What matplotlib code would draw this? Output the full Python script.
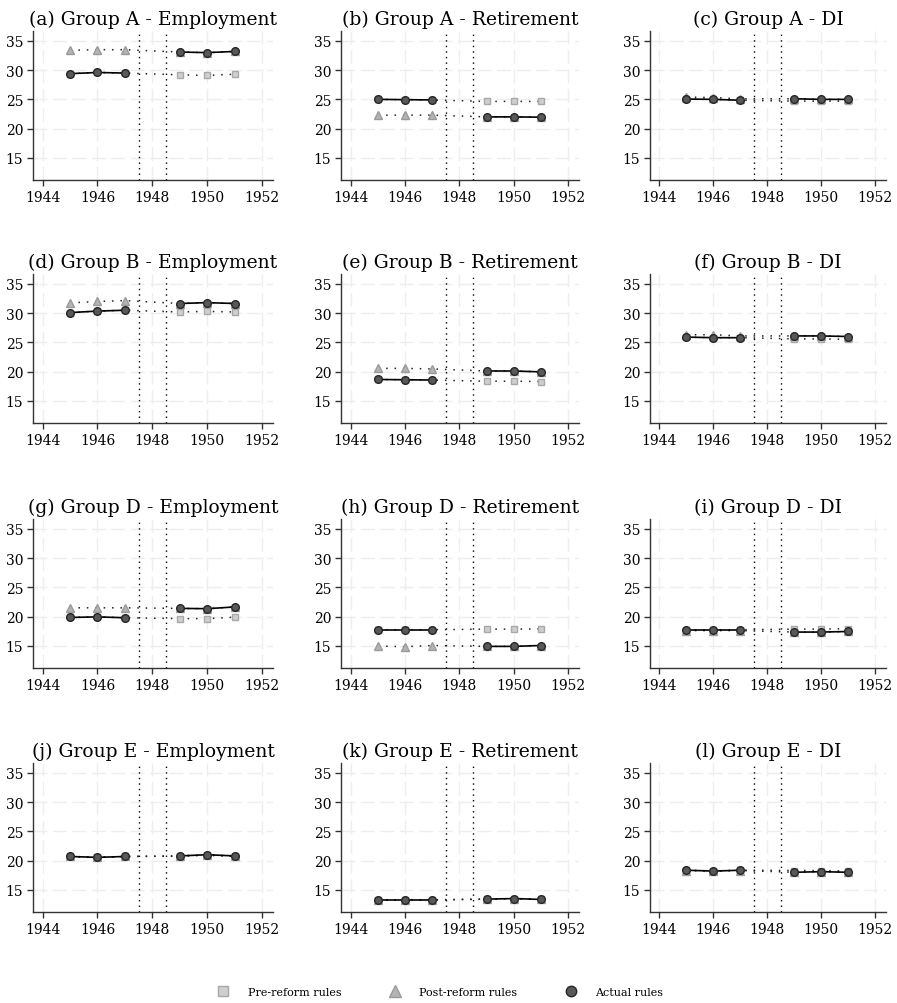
import numpy as np
import matplotlib
matplotlib.use("Agg")
import matplotlib.pyplot as plt
from matplotlib.lines import Line2D

plt.rcParams["font.family"] = ["DejaVu Serif"]

years = [1945, 1946, 1947, 1949, 1950, 1951]
reform_lines = [1947.5, 1948.5]

titles = ["(a) Group A - Employment", "(b) Group A - Retirement", "(c) Group A - DI",
          "(d) Group B - Employment", "(e) Group B - Retirement", "(f) Group B - DI",
          "(g) Group D - Employment", "(h) Group D - Retirement", "(i) Group D - DI",
          "(j) Group E - Employment", "(k) Group E - Retirement", "(l) Group E - DI"]

# one row per panel, values for 1945, 1946, 1947, 1949, 1950, 1951
actual = [
  [29.4, 29.6, 29.5, 33.1, 33.0, 33.2],
  [25.0, 24.95, 24.9, 22.0, 22.0, 21.95],
  [25.05, 25.0, 24.85, 25.1, 25.0, 25.0],
  [30.1, 30.35, 30.5, 31.65, 31.8, 31.65],
  [18.65, 18.6, 18.55, 20.1, 20.1, 19.95],
  [25.9, 25.8, 25.8, 26.1, 26.1, 26.0],
  [19.85, 19.95, 19.8, 21.4, 21.35, 21.65],
  [17.75, 17.75, 17.75, 14.9, 14.9, 15.05],
  [17.75, 17.75, 17.75, 17.35, 17.35, 17.45],
  [20.7, 20.55, 20.7, 20.8, 21.0, 20.8],
  [13.25, 13.25, 13.25, 13.4, 13.5, 13.35],
  [18.35, 18.2, 18.35, 18.0, 18.1, 18.0],
]
pre_reform = [
  [29.4, 29.6, 29.5, 29.2, 29.1, 29.3],
  [25.0, 24.95, 24.9, 24.65, 24.65, 24.65],
  [25.05, 25.0, 24.85, 24.7, 24.7, 24.7],
  [30.1, 30.35, 30.5, 30.2, 30.3, 30.2],
  [18.65, 18.6, 18.55, 18.35, 18.35, 18.3],
  [25.9, 25.8, 25.8, 25.6, 25.6, 25.5],
  [19.85, 19.95, 19.8, 19.65, 19.65, 19.9],
  [17.75, 17.75, 17.75, 17.85, 17.85, 17.9],
  [17.75, 17.75, 17.75, 17.85, 17.85, 17.95],
  [20.7, 20.55, 20.7, 20.75, 20.9, 20.7],
  [13.25, 13.25, 13.25, 13.4, 13.5, 13.4],
  [18.35, 18.2, 18.35, 18.3, 18.3, 18.2],
]
post_reform = [
  [33.4, 33.5, 33.5, 33.1, 33.0, 33.2],
  [22.3, 22.3, 22.3, 22.0, 22.0, 21.95],
  [25.4, 25.3, 25.1, 25.1, 25.0, 25.0],
  [31.75, 32.0, 32.15, 31.65, 31.8, 31.65],
  [20.55, 20.55, 20.45, 20.1, 20.1, 19.95],
  [26.3, 26.3, 26.1, 26.1, 26.1, 26.0],
  [21.5, 21.5, 21.5, 21.4, 21.35, 21.65],
  [14.95, 14.85, 15.05, 14.9, 14.9, 15.05],
  [17.6, 17.6, 17.6, 17.35, 17.35, 17.45],
  [20.7, 20.6, 20.7, 20.8, 21.0, 20.8],
  [13.3, 13.3, 13.3, 13.4, 13.5, 13.35],
  [18.3, 18.25, 18.3, 18.0, 18.1, 18.0],
]

W, H = 897, 1004
fig = plt.figure(figsize=(W/100, H/100), dpi=100)

lefts = [33, 341, 650]
widths = [240, 238, 236]
tops = [32, 275, 520, 764]
ah = 149

sq_style = dict(marker="s", markersize=5, markerfacecolor="#cfcfcf", markeredgecolor="#a8a8a8", markeredgewidth=1)
tri_style = dict(marker="^", markersize=5.5, markerfacecolor="#b4b4b4", markeredgecolor="#9a9a9a", markeredgewidth=1)
dot_style = dict(marker="o", markersize=5.5, markerfacecolor="#585858", markeredgecolor="#262626", markeredgewidth=1)

x = np.array(years)
for k in range(12):
  r, c = k // 3, k % 3
  ax = fig.add_axes([lefts[c]/W, 1 - (tops[r]+ah)/H, widths[c]/W, ah/H])
  ax.set_xlim(1943.65, 1952.4)
  ax.set_ylim(11.2, 36.7)
  ax.set_xticks([1944, 1946, 1948, 1950, 1952])
  ax.set_yticks([15, 20, 25, 30, 35])
  ax.grid(True, color="#eeeeee", linewidth=1, linestyle=(0, (10, 4)))
  ax.set_axisbelow(True)
  for s in ["top", "right"]:
    ax.spines[s].set_visible(False)
  for s in ["left", "bottom"]:
    ax.spines[s].set_color("#333333")
    ax.spines[s].set_linewidth(1)
  ax.tick_params(length=4, width=1, color="#333333", labelsize=10, pad=3)
  for v in reform_lines:
    ax.axvline(v, color="black", linestyle=(0, (1, 3)), linewidth=1, zorder=2)

  ax.plot(x, pre_reform[k], color="#222222", linestyle=(0, (1, 4.5)), linewidth=1.1, zorder=3, **sq_style)
  ax.plot(x, post_reform[k], color="#222222", linestyle=(0, (1, 4.5)), linewidth=1.1, zorder=3, **tri_style)
  a = actual[k]
  ax.plot(x[:3], a[:3], color="black", linewidth=1.2, zorder=4, **dot_style)
  ax.plot(x[3:], a[3:], color="black", linewidth=1.2, zorder=4, **dot_style)
  ax.set_title(titles[k], fontsize=13.5, pad=5)

handles = [Line2D([], [], linestyle="none", **dict(sq_style, markersize=7)),
           Line2D([], [], linestyle="none", **dict(tri_style, markersize=8.5)),
           Line2D([], [], linestyle="none", **dict(dot_style, markersize=7.5))]
fig.legend(handles, ["Pre-reform rules", "Post-reform rules", "Actual rules"],
           loc="center", bbox_to_anchor=(0.491, 1 - 993/H), ncol=3, frameon=False,
           fontsize=8, handletextpad=1.7, columnspacing=4.3, handlelength=1)

fig.savefig("out.png", dpi=100)
